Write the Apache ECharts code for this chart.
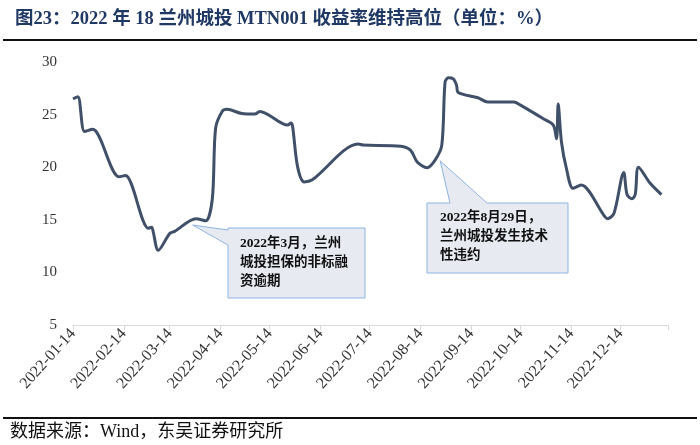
<!DOCTYPE html>
<html><head><meta charset="utf-8">
<script src="https://cdn.jsdelivr.net/npm/echarts@6/dist/echarts.min.js"></script>
<style>html,body{margin:0;padding:0;background:#fff}#c{width:700px;height:445px}</style>
</head><body><div id="c"></div>
<script>
const titleText = '图23：2022 年 18 兰州城投 MTN001 收益率维持高位（单位：%）';
const sourceText = '数据来源：Wind，东吴证券研究所';
const axisStart = '2022-01-14';
const axisEnd = '2023-01-12';
const yTicks = [5, 10, 15, 20, 25, 30];
const pointDates = ['2022-01-14','2022-01-17','2022-01-21','2022-01-26','2022-02-11','2022-02-15','2022-03-01','2022-03-03','2022-03-04','2022-03-07','2022-03-14','2022-03-17','2022-03-30','2022-04-05','2022-04-09','2022-04-11','2022-04-15','2022-04-18','2022-04-27','2022-05-05','2022-05-08','2022-05-25','2022-05-27','2022-05-28','2022-05-31','2022-06-04','2022-06-09','2022-07-07','2022-07-10','2022-08-02','2022-08-08','2022-08-12','2022-08-18','2022-08-23','2022-08-27','2022-08-29','2022-08-31','2022-09-03','2022-09-05','2022-09-06','2022-09-18','2022-09-24','2022-10-10','2022-10-14','2022-10-28','2022-11-03','2022-11-05','2022-11-06','2022-11-08','2022-11-11','2022-11-15','2022-11-20','2022-12-04','2022-12-06','2022-12-10','2022-12-16','2022-12-18','2022-12-21','2022-12-23','2022-12-25','2023-01-01','2023-01-08'];
const yieldValues = [26.5,26.7,23.4,23.6,19.1,19.2,14.2,14.3,13.8,12.1,13.7,13.9,15.1,14.9,17.0,23.7,25.3,25.5,25.1,25.05,25.3,24.0,24.2,23.85,20.05,18.6,18.8,22.2,22.1,22.0,21.6,20.5,19.95,20.7,22.1,28.1,28.5,28.4,27.8,27.1,26.6,26.2,26.2,25.9,24.6,24.0,22.7,26.0,22.4,19.9,18.0,18.3,15.4,15.1,15.6,19.5,17.4,17.0,17.4,20.0,18.5,17.4];
const note1Lines = ['2022年3月，兰州', '城投担保的非标融', '资逾期'];
const note1Anchor = ['2022-03-28', 14.5];
const note2Lines = ['2022年8月29日，', '兰州城投发生技术', '性违约'];
const note2Anchor = ['2022-08-26', 20.6];

function fmt(d){const m=d.getUTCMonth()+1, dd=d.getUTCDate();return d.getUTCFullYear()+'-'+(m<10?'0':'')+m+'-'+(dd<10?'0':'')+dd;}
const categories = [];
for (let d = new Date(axisStart+'T00:00:00Z'); fmt(d) <= axisEnd; d = new Date(d.getTime()+86400000)) categories.push(fmt(d));

const serif = '"Liberation Serif","Times New Roman","Noto Sans CJK SC",serif';
const chart = echarts.init(document.getElementById('c'), null, {renderer:'canvas'});
chart.setOption({
  animation:false,
  backgroundColor:'#fff',
  title:{text:titleText,left:10,top:5,textStyle:{fontFamily:serif,fontSize:18.5,fontWeight:'bold',color:'#1F3864'}},
  grid:{left:73,right:32,top:62,bottom:120,containLabel:false},
  xAxis:{type:'category',data:categories,boundaryGap:false,
    axisLine:{show:true,lineStyle:{color:'#D9D9D9',width:1}},
    axisTick:{show:true,length:5,lineStyle:{color:'#D9D9D9'},interval:(i,v)=>v.endsWith('-14')||i===categories.length-1},
    axisLabel:{interval:(i,v)=>v.endsWith('-14')&&v.startsWith('2022'),rotate:48,margin:6,fontFamily:serif,fontSize:16,color:'#333'},
    splitLine:{show:false}},
  yAxis:{type:'value',min:yTicks[0],max:yTicks[yTicks.length-1],interval:5,
    axisLine:{show:false},axisTick:{show:false},splitLine:{show:false},
    axisLabel:{fontFamily:serif,fontSize:15,color:'#333',margin:16}},
  series:[{type:'line',data:pointDates.map((d,i)=>[d,yieldValues[i]]),smooth:0.3,showSymbol:false,
    lineStyle:{color:'#3F5068',width:3},itemStyle:{color:'#3F5068'}}]
});
const idx = d => categories.indexOf(d);
const t1 = chart.convertToPixel({gridIndex:0},[idx(note1Anchor[0]),note1Anchor[1]]);
const t2 = chart.convertToPixel({gridIndex:0},[idx(note2Anchor[0]),note2Anchor[1]]);
const fill='#E7EAF0', stroke='#8DB4E2';
const b1={x1:228,y1:228,x2:365,y2:298}, b2={x1:427,y1:203,x2:568,y2:273};
chart.setOption({graphic:[
  {type:'line',shape:{x1:3,y1:40,x2:697,y2:40},style:{stroke:'#111',lineWidth:2}},
  {type:'line',shape:{x1:3,y1:418,x2:697,y2:418},style:{stroke:'#111',lineWidth:2}},
  {type:'text',left:10,top:423,style:{text:sourceText,font:'18px '+serif,fill:'#111'}},
  {type:'polygon',shape:{points:[[b1.x1,b1.y1],[b1.x2,b1.y1],[b1.x2,b1.y2],[b1.x1,b1.y2],[b1.x1,b1.y1+17],t1,[b1.x1,b1.y1+2]]},style:{fill:fill,stroke:stroke,lineWidth:1},z:10},
  {type:'text',x:240,y:234,style:{text:note1Lines.join('\n'),font:'bold 13.5px '+serif,fill:'#111',lineHeight:19},z:11},
  {type:'polygon',shape:{points:[[b2.x1,b2.y1],[b2.x1+23,b2.y1],t2,[b2.x1+60,b2.y1],[b2.x2,b2.y1],[b2.x2,b2.y2],[b2.x1,b2.y2]]},style:{fill:fill,stroke:stroke,lineWidth:1},z:10},
  {type:'text',x:440,y:208,style:{text:note2Lines.join('\n'),font:'bold 13.5px '+serif,fill:'#111',lineHeight:19},z:11}
]});
</script></body></html>
